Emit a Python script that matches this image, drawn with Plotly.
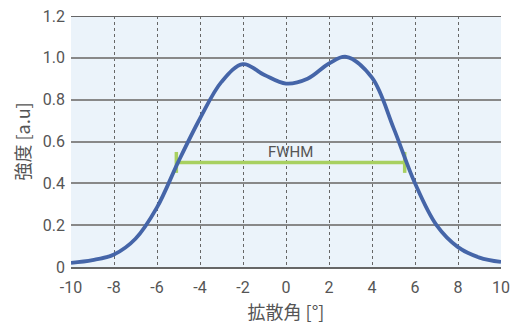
import plotly.graph_objects as go

# Intensity profile vs. diffusion angle
angle = [-10, -9, -8, -7, -6, -5, -4, -3, -2, -1, 0, 1, 2, 2.8, 4, 5, 6, 7, 8, 9, 10]
intensity = [0.02, 0.033, 0.06, 0.135, 0.285, 0.505, 0.71, 0.885, 0.97, 0.918, 0.877,
             0.9, 0.973, 1.005, 0.905, 0.665, 0.4, 0.2, 0.095, 0.045, 0.024]

# Full width at half maximum marker
fwhm_left = -5.1
fwhm_right = 5.52
fwhm_level = 0.5
fwhm_cap = 0.05

x_ticks = [-10, -8, -6, -4, -2, 0, 2, 4, 6, 8, 10]
y_ticks = [0, 0.2, 0.4, 0.6, 0.8, 1.0, 1.2]
y_tick_text = ["0", "0.2", "0.4", "0.6", "0.8", "1.0", "1.2"]

font_family = "Noto Sans CJK JP, Noto Sans, sans-serif"
num_family = "Roboto, Noto Sans, sans-serif"
green = "#a8d060"
blue = "#4565a8"
text_color = "#555555"

fig = go.Figure()

fig.add_trace(go.Scatter(
    x=[fwhm_left, fwhm_right], y=[fwhm_level, fwhm_level],
    mode="lines", line=dict(color=green, width=3.5), hoverinfo="skip"))
for xe in (fwhm_left, fwhm_right):
    fig.add_trace(go.Scatter(
        x=[xe, xe], y=[fwhm_level - fwhm_cap, fwhm_level + fwhm_cap],
        mode="lines", line=dict(color=green, width=3.5), hoverinfo="skip"))

fig.add_trace(go.Scatter(
    x=angle, y=intensity, mode="lines",
    line=dict(color=blue, width=3.8, shape="spline", smoothing=1.0)))

fig.add_annotation(x=0.2, y=fwhm_level + 0.048, text="FWHM", showarrow=False,
                   font=dict(size=15, color=text_color, family=num_family))

# Top frame line
fig.add_shape(type="line", xref="paper", yref="y", x0=0, x1=1, y0=1.2, y1=1.2,
              line=dict(color="#666666", width=2))

fig.update_layout(
    width=512, height=324,
    margin=dict(l=71, r=11, t=16, b=57),
    paper_bgcolor="white",
    plot_bgcolor="#ebf3fa",
    showlegend=False,
    font=dict(family=font_family, color=text_color, size=16),
    xaxis=dict(
        range=[-10, 10], tickvals=x_ticks, ticktext=[str(v) for v in x_ticks],
        automargin=False,
        showgrid=True, gridcolor="#666666", gridwidth=1, griddash="dot",
        zeroline=False, showline=True, linecolor="#666666", linewidth=2,
        ticks="", ticklen=0, ticklabelstandoff=5,
        title=dict(text="拡散角 [°]", font=dict(size=18, color=text_color), standoff=15),
        tickfont=dict(size=16, color=text_color, family=num_family),
    ),
    yaxis=dict(
        range=[0, 1.2], tickvals=y_ticks, ticktext=y_tick_text,
        automargin=False,
        showgrid=True, gridcolor="#888888", gridwidth=1.5,
        zeroline=False, showline=False, ticks="", ticklabelstandoff=5,
        title=dict(text="強度 [a.u]", font=dict(size=18, color=text_color), standoff=7),
        tickfont=dict(size=16, color=text_color, family=num_family),
    ),
)

fig.write_html("out.html")
